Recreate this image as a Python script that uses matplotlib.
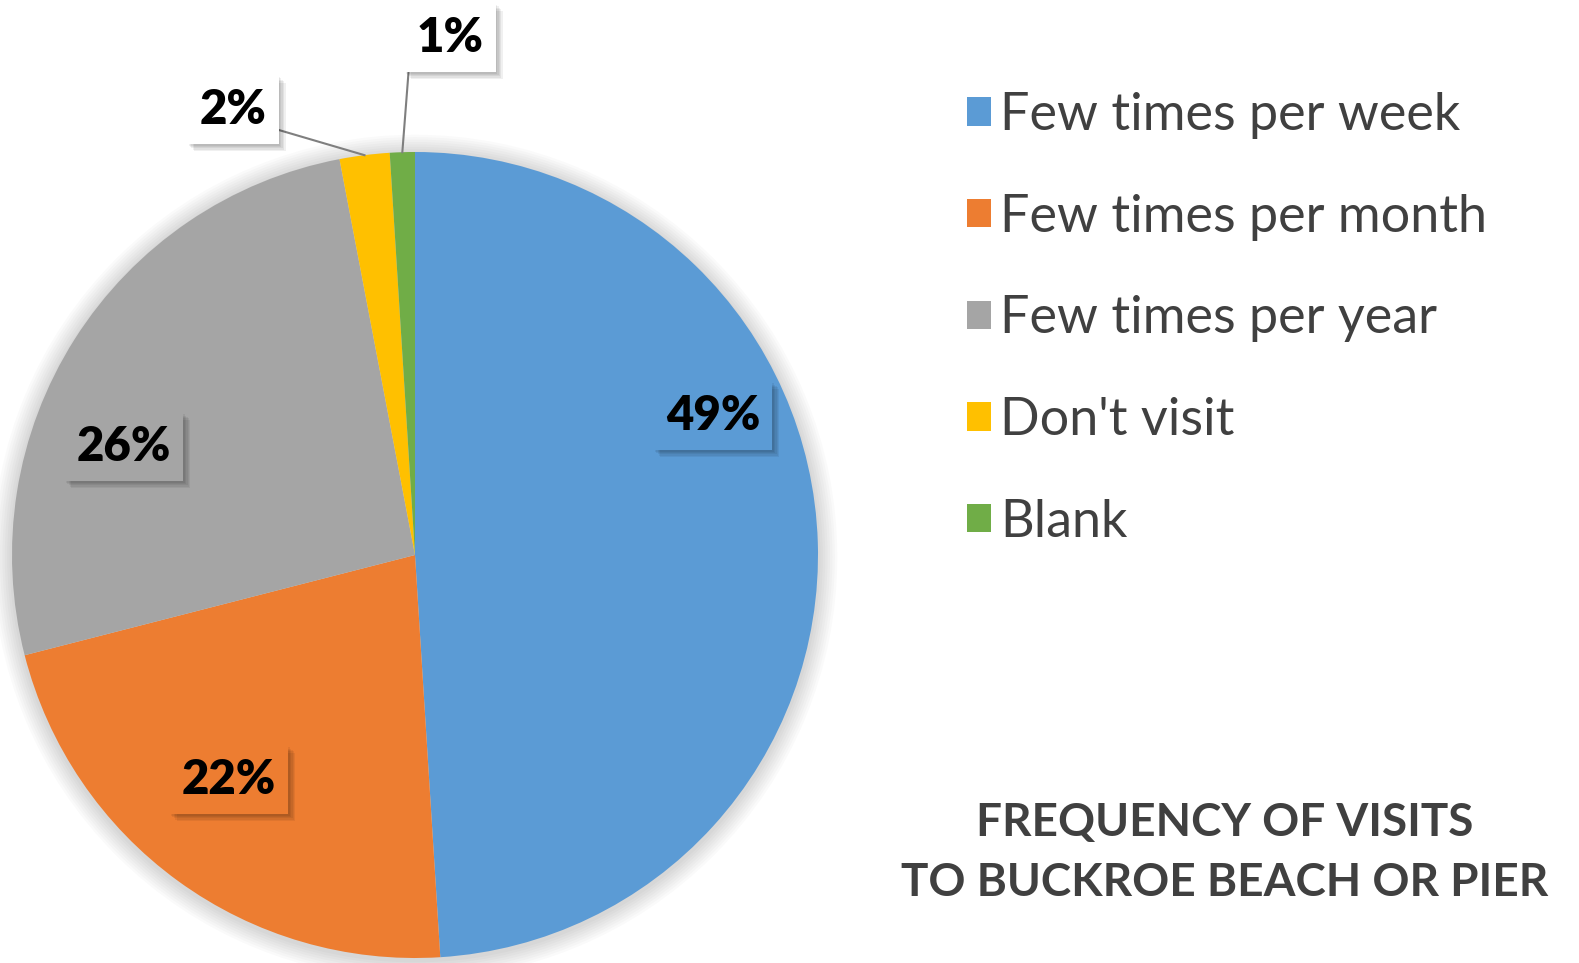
import numpy as np
import matplotlib
matplotlib.use("Agg")
from matplotlib import pyplot as plt
import matplotlib.patheffects as pe

# data
categories = ["Few times per week", "Few times per month", "Few times per year",
              "Don't visit", "Blank"]
shares = [49, 22, 26, 2, 1]
pct_labels = ["49%", "22%", "26%", "2%", "1%"]
colours = ["#5B9BD5", "#ED7D31", "#A5A5A5", "#FFC000", "#70AD47"]
title_lines = ["FREQUENCY OF VISITS", "TO BUCKROE BEACH OR PIER"]

plt.rcParams['font.family'] = ['Lato', 'DejaVu Sans']

W, H = 1579, 963
fig = plt.figure(figsize=(W / 100, H / 100), dpi=100)

# pie axes placed so that centre ~ (415, 555) px, radius ~403 px
cx, cy, r = 415, 555, 403
ax = fig.add_axes([(cx - r) / W, (H - cy - r) / H, 2 * r / W, 2 * r / H])

# soft shadow behind the pie
for k in range(8):
    ax.add_patch(plt.Circle((0.0, -0.005), 1.0 + 0.006 * (k + 1), color='black',
                            alpha=0.018, lw=0, zorder=0, clip_on=False))

wedges, _ = ax.pie(shares, colors=colours, startangle=90, counterclock=False,
                   radius=1.0, wedgeprops=dict(linewidth=0, zorder=2))
ax.set_aspect('auto')
ax.set_xlim(-1, 1)
ax.set_ylim(-1, 1)
ax.axis('off')

def px(x, y):
    return ((x - cx) / r, (cy - y) / r)

# label box positions (pixel centres) -- layout only
label_pos = [(713, 416), (229, 780), (124, 447), (233, 110), (450, 38)]
leader = [False, False, False, True, True]

shadow = [pe.SimplePatchShadow(offset=(d, -d), shadow_rgbFace='black', alpha=0.06)
          for d in (5, 4, 3, 2, 1)]
shadow += [pe.SimplePatchShadow(offset=(0, 0), shadow_rgbFace='black', alpha=0.05)]

for i, w in enumerate(wedges):
    lx, ly = px(*label_pos[i])
    fc = 'white' if leader[i] else colours[i]
    t = ax.text(lx, ly, pct_labels[i], ha='center', va='center', fontsize=34,
                fontweight='heavy', color='black', zorder=6,
                bbox=dict(boxstyle='square,pad=0.26', fc=fc, ec='none'))
    t.get_bbox_patch().set_path_effects(shadow + [pe.Normal()])
    if leader[i]:
        ang = np.deg2rad((w.theta1 + w.theta2) / 2)
        ex, ey = np.cos(ang), np.sin(ang)
        if i == 3:
            sx, sy = px(272, 128)
        else:
            sx, sy = px(410, 53)
        ax.plot([sx, ex], [sy, ey], color='#7F7F7F', lw=1.5, zorder=5,
                clip_on=False)

# legend
leg = fig.legend(wedges, categories, loc='upper left',
                 bbox_to_anchor=(941 / W, 1 - 66 / H), frameon=False,
                 fontsize=37.5, handlelength=0.46, handleheight=0.46,
                 handletextpad=0.18, labelspacing=1.05, borderpad=0)
for txt in leg.get_texts():
    txt.set_color('#404040')

fig.text(1225 / W, 1 - 853 / H, "\n".join(title_lines), ha='center',
         va='center', fontsize=33, fontweight='bold', color='#404040',
         linespacing=1.5)

fig.savefig("out.png", dpi=100, facecolor='white')
